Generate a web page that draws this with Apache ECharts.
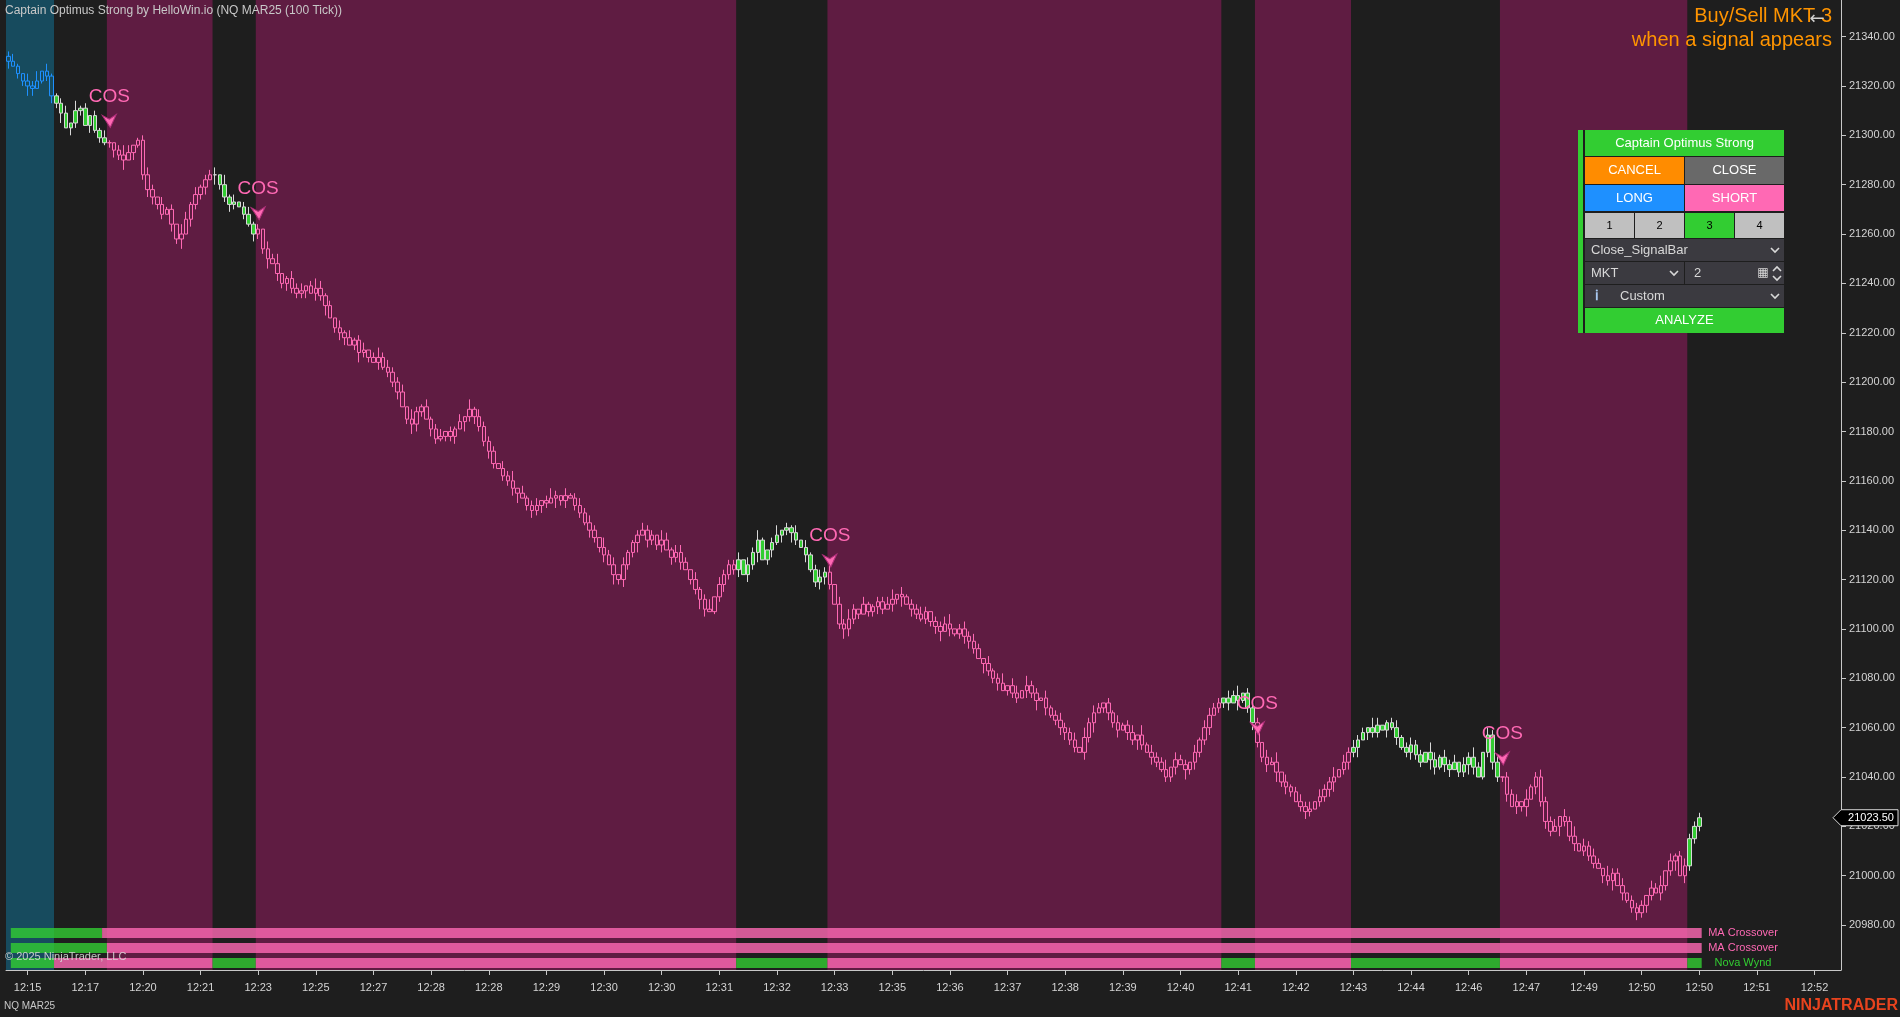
<!DOCTYPE html>
<html><head><meta charset="utf-8">
<script src="https://cdn.jsdelivr.net/npm/echarts@6/dist/echarts.min.js"></script>
<style>html,body{margin:0;padding:0;background:#1e1e1e;overflow:hidden}#c{width:1900px;height:1017px}</style>
</head><body><div id="c"></div><script>
// ---------- DATA ----------
const tickLabels = ['12:15','12:17','12:20','12:21','12:23','12:25','12:27','12:28','12:28','12:29','12:30','12:30','12:31','12:32','12:33','12:35','12:36','12:37','12:38','12:39','12:40','12:41','12:42','12:43','12:44','12:46','12:47','12:49','12:50','12:50','12:51','12:52'];
const yTicks = [20980,21000,21020,21040,21060,21080,21100,21120,21140,21160,21180,21200,21220,21240,21260,21280,21300,21320,21340];
const firstOpen = 21332;
const closes = [
21330,21328,21325,21322,21320,21319,21322,21326,21324,21316,
21313,21309,21303,21305,21310,21311,21304,21308,21302,21299,21297,
21297,21294,21292,21290,21293,21296,21298,21284,21278,21275,21272,21268,21270,21264,21258,21260,21266,21272,21276,21279,21282,21284,
21284,21280,21275,21272,21273,21271,21268,21264,21260,
21262,21254,21250,21248,21244,21240,21242,21238,21236,21237,
21239,21236,21238,21235,21231,21226,21222,21220,21218,21215,
21217,21212,21213,21210,21208,21210,21206,21204,21200,21196,
21190,21185,21183,21188,21190,21185,21181,21177,21178,21180,
21178,21181,21184,21186,21189,21186,21182,21176,21172,21167,
21165,21162,21160,21157,21155,21153,21150,21148,21150,21152,
21151,21153,21154,21152,21154,21153,21150,21147,21143,21140,
21137,21133,21130,21126,21122,21120,21126,21131,21135,21138,
21140,21136,21138,21134,21136,21132,21129,21131,21127,21124,
21120,21116,21112,21108,21107,21113,21118,21122,21126,21124,
21128,21122,21126,21131,21136,21128,21132,21135,21138,21140,21141,21139,21136,21133,21130,21124,21119,21121,21123,
21118,21110,21102,21100,21104,21108,21106,21110,21107,21109,
21111,21108,21110,21112,21114,21113,21110,21108,21106,21104,
21107,21103,21101,21099,21102,21100,21098,21100,21097,21095,
21092,21088,21086,21083,21080,21078,21075,21077,21074,21072,
21075,21077,21074,21071,21072,21068,21065,21063,21060,21058,
21055,21052,21050,21056,21062,21066,21068,21070,21066,21062,
21059,21061,21058,21055,21057,21053,21050,21048,21046,21043,
21040,21044,21047,21045,21043,21046,21050,21055,21060,21065,
21068,21070,
21072,21070,21073,21071,21074,21068,21062,
21054,21048,21045,21046,21042,21038,21036,21034,21030,21028,21026,21027,21030,21032,21035,21038,21040,21043,21046,21050,
21052,21055,21058,21060,21058,21061,21059,21062,21060,21056,
21052,21050,21053,21049,21046,21050,21047,21044,21048,21045,
21043,21046,21042,21045,21048,21044,21040,21050,21057,21046,21040,
21040,21033,21028,21030,21028,21031,21036,21040,21030,21022,
21018,21020,21024,21022,21016,21013,21010,21012,21008,21005,
21003,21000,20998,21001,20996,20993,20990,20987,20985,20988,
20992,20995,20993,20996,21002,21006,21008,21000,21004,
21015,21020,21023.5
];
const upWick = '2310324031'+'1230412021'+'3102430123'+'2031204313'+'1223041302'+'3120324013'+'2302431203'+'1312302423'+'2230421312'+'3021304132'+
'2203240312'+'3024203123'+'2320423031'+'1232204313'+'3203124032'+'2230324102'+'4021303123'+'2303242031'+'1223403122'+'3202234023'+
'2320312403'+'3042203123'+'2230423202'+'1312304132'+'2403220313'+'3220324023'+'2032403123'+'2303224032'+'3220430123'+'1232204313'+
'2303242032'+'3022304123'+'2230324032'+'3204223022'+'2032403123'+'2222222222';
const downWick = '3022430123'+'2403220312'+'1232403123'+'3220324032'+'2304223202'+'1322403232'+'2230324023'+'3024220312'+'2302432032'+'1223042322'+
'3202234023'+'2320423022'+'1322304232'+'2403223032'+'3022430123'+'2230324023'+'1324203123'+'3202432202'+'2320324032'+'1223403123'+
'3204223022'+'2032403123'+'3220324023'+'2303242032'+'1223042322'+'3022304123'+'2230423202'+'3202234023'+'2403220313'+'1232204313'+
'3022430123'+'2230324032'+'3204223022'+'2032403123'+'2320322403'+'2222222222';
// regime bands: [firstBar, lastBar, regime]
const bands = [[0,9,'long'],[10,20,'flat'],[21,42,'short'],[43,51,'flat'],[52,151,'short'],[152,170,'flat'],[171,252,'short'],[253,259,'flat'],[260,279,'short'],[280,310,'flat'],[311,349,'short'],[350,352,'flat']];
// indicator rows: [firstBar, lastBar, state]
const maCross1 = [[1,19,'up'],[20,352,'down']];
const maCross2 = [[1,20,'up'],[21,352,'down']];
const novaWynd = [[1,9,'up'],[10,42,'down'],[43,51,'up'],[52,151,'down'],[152,170,'up'],[171,252,'down'],[253,259,'up'],[260,279,'down'],[280,310,'up'],[311,349,'down'],[350,352,'up']];
const indicatorNames = ['MA Crossover','MA Crossover','Nova Wynd'];
const cosBars = [21,52,171,260,311];
const cosPrices = [21305.8,21268.4,21127.7,21059.8,21047.5];
const lastPrice = 21023.5;

// ---------- LAYOUT / STYLE ----------
const categoryCount = 382, tickStart = 4, barsPerTick = 12;
const FF = 'Liberation Sans, Arial, sans-serif';
const bandColor = {long:'#174b5e', short:'#5f1c42'};
const candleStyle = {
  long: {color:'rgba(0,0,0,0)', color0:'#1e90ff', borderColor:'#1e90ff', borderColor0:'#1e90ff'},
  flat: {color:'#32cd32', color0:'#ff1a1a', borderColor:'#d8d8d8', borderColor0:'#d8d8d8'},
  short:{color:'rgba(0,0,0,0)', color0:'#ff69b4', borderColor:'#ff69b4', borderColor0:'#ff69b4'}
};
const stripColor = {up:'rgba(50,205,50,0.8)', down:'rgba(255,105,180,0.8)'};
const labelColor = ['#ff69b4','#ff69b4','#32cd32'];

const cats = Array.from({length:categoryCount}, (_,i)=>String(i));
function regimeOf(i){ for (const b of bands) if (i>=b[0] && i<=b[1]) return b[2]; return 'flat'; }
const candles = closes.map((c,i)=>{
  const o = i ? closes[i-1] : firstOpen;
  const u = +(upWick[i]||0), d = +(downWick[i]||0);
  return {value:[o, c, Math.min(o,c)-d, Math.max(o,c)+u], itemStyle: candleStyle[regimeOf(i)]};
});
const bandData = bands.filter(b=>b[2]!=='flat');
const stripRows = [maCross1, maCross2, novaWynd];
const stripData = [];
stripRows.forEach((row,r)=>row.forEach(s=>stripData.push({s:s[0], e:s[1], row:r, state:s[2]})));
const isTick = (idx)=> idx>=tickStart && (idx-tickStart)%barsPerTick===0 && (idx-tickStart)/barsPerTick < tickLabels.length;

const chart = echarts.init(document.getElementById('c'));
chart.setOption({
  animation:false,
  backgroundColor:'#1e1e1e',
  grid:{left:6, right:59, top:0, bottom:47, containLabel:false},
  xAxis:{type:'category', data:cats, boundaryGap:true,
    axisLine:{show:true, lineStyle:{color:'#c8c8c8', width:1}},
    axisTick:{show:true, alignWithLabel:true, interval:isTick, length:5, lineStyle:{color:'#c8c8c8'}},
    axisLabel:{interval:isTick, formatter:(v,i)=>tickLabels[(i-tickStart)/barsPerTick], color:'#d4d4d4', fontSize:11, margin:12, fontFamily:FF},
    splitLine:{show:false}},
  yAxis:{type:'value', position:'right', min:20961.8, max:21354.83, scale:true,
    axisLine:{show:true, lineStyle:{color:'#c8c8c8', width:1}},
    axisTick:{show:true, length:5, customValues:yTicks, lineStyle:{color:'#c8c8c8'}},
    axisLabel:{show:true, customValues:yTicks, formatter:v=>Number(v).toFixed(2), color:'#d4d4d4', fontSize:11, margin:8, fontFamily:FF},
    splitLine:{show:false}},
  series:[
    {type:'custom', silent:true, z:1, clip:false,
      data: bandData.map(b=>[b[0], b[1]]), encode:{x:[0,1]},
      renderItem:(params, api)=>{
        const b = bandData[params.dataIndex];
        const w = api.size([1,0])[0];
        const x0 = api.coord([b[0], 21000])[0] - w/2;
        const x1 = api.coord([b[1], 21000])[0] + w/2;
        const cs = params.coordSys;
        return {type:'rect', shape:{x:x0, y:cs.y, width:x1-x0, height:cs.height}, style:{fill:bandColor[b[2]]}};
      }},
    {type:'custom', silent:true, z:2, clip:false,
      data: stripData.map(s=>[s.s, s.e]), encode:{x:[0,1]},
      renderItem:(params, api)=>{
        const s = stripData[params.dataIndex];
        const w = api.size([1,0])[0];
        const x0 = api.coord([s.s, 21000])[0] - w/2;
        const x1 = api.coord([s.e, 21000])[0] + w/2;
        const cs = params.coordSys;
        const y = cs.y + cs.height - 42 + s.row*15;
        return {type:'rect', shape:{x:x0, y:y, width:x1-x0, height:10}, style:{fill:stripColor[s.state]}};
      }},
    {type:'candlestick', z:3, data:candles, barWidth:4, itemStyle:{borderWidth:1}},
    {type:'scatter', z:5, silent:true,
      data: cosBars.map((b,k)=>[b, cosPrices[k]]),
      symbol:'path://M0,1 L7,5 L14,0 L8,14 Z', symbolSize:[14,13],
      itemStyle:{color:'#ff69b4', borderColor:'#b0307a', borderWidth:1, opacity:1},
      label:{show:true, formatter:'COS', position:'top', distance:8, color:'#ff69b4', fontSize:19, fontFamily:FF}}
  ]
});

// ---------- overlay texts / trade panel ----------
function box(x,y,w,h,fill){return {type:'rect', shape:{x:x,y:y,width:w,height:h}, style:{fill:fill}, silent:true, z:100};}
function txt(x,y,s,o,z){return {type:'text', x:x, y:y, silent:true, z:z||101, style:Object.assign({text:s, fill:'#ffffff', font:'13px '+FF, align:'center', verticalAlign:'middle'}, o||{})};}
function chev(x,y,up){return {type:'polyline', silent:true, z:101, shape:{points: up?[[x-4,y+2],[x,y-2],[x+4,y+2]]:[[x-4,y-2],[x,y+2],[x+4,y-2]]}, style:{stroke:'#d8d8d8', lineWidth:1.6, fill:null}};}

const g = [];
g.push(txt(5,11,'Captain Optimus Strong by HelloWin.io (NQ MAR25 (100 Tick))',{fill:'#c8c8c8', font:'12px '+FF, align:'left'}));
g.push(txt(1832,16,'Buy/Sell MKT 3',{fill:'#ff9400', font:'20px '+FF, align:'right'}));
g.push(txt(1832,40,'when a signal appears',{fill:'#ff9400', font:'20px '+FF, align:'right'}));
g.push(txt(1817,19,'←',{fill:'#d0d0d0', font:'18px DejaVu Sans, sans-serif'}));
g.push(txt(5,957,'© 2025 NinjaTrader, LLC',{fill:'rgba(215,215,215,0.9)', font:'11px '+FF, align:'left'}));
g.push(txt(4,1006,'NQ MAR25',{fill:'#c8c8c8', font:'10px '+FF, align:'left'}));
g.push(txt(1898,1006,'NINJATRADER',{fill:'#e8431e', font:'bold 16px '+FF, align:'right'}));
indicatorNames.forEach((n,r)=>g.push(txt(1743,933+15*r,n,{fill:labelColor[r], font:'11px '+FF})));

// trade panel
g.push(box(1578,130,206,203,'#1e1e1e'));
g.push(box(1578,130,5,203,'#32cd32'));
g.push(box(1585,130,199,26,'#32cd32')); g.push(txt(1684.5,143,'Captain Optimus Strong'));
g.push(box(1585,157,99,27,'#ff8c00')); g.push(txt(1634.5,170.5,'CANCEL'));
g.push(box(1685,157,99,27,'#696969')); g.push(txt(1734.5,170.5,'CLOSE'));
g.push(box(1585,185,99,26,'#1e90ff')); g.push(txt(1634.5,198,'LONG'));
g.push(box(1685,185,99,26,'#ff69b4')); g.push(txt(1734.5,198,'SHORT'));
['1','2','3','4'].forEach((n,k)=>{ g.push(box(1585+50*k,213,49,25,n==='3'?'#32cd32':'#c0c0c0')); g.push(txt(1609.5+50*k,225.5,n,{fill:'#000', font:'11px '+FF})); });
g.push(box(1585,239,199,22,'#3b3a40')); g.push(txt(1591,250,'Close_SignalBar',{fill:'#d8d8d8', align:'left'})); g.push(chev(1775,250,false));
g.push(box(1585,262,99,22,'#3b3a40')); g.push(txt(1591,273,'MKT',{fill:'#d8d8d8', align:'left'})); g.push(chev(1674,273,false));
g.push(box(1685,262,99,22,'#3b3a40')); g.push(txt(1694,273,'2',{fill:'#d8d8d8', align:'left'}));
g.push(txt(1763,273,'▦',{fill:'#d8d8d8', font:'12px DejaVu Sans, sans-serif'})); g.push(chev(1777,269,true)); g.push(chev(1777,278,false));
g.push(box(1585,285,199,22,'#3b3a40')); g.push(txt(1597,296,'ℹ',{fill:'#a9c8f0', font:'bold 14px DejaVu Serif, serif'}));
g.push(txt(1620,296,'Custom',{fill:'#d8d8d8', align:'left'})); g.push(chev(1775,296,false));
g.push(box(1585,308,199,25,'#32cd32')); g.push(txt(1684.5,320.5,'ANALYZE'));

// last price tag, positioned from the data
const pt = chart.convertToPixel({seriesIndex:2}, [closes.length-1, lastPrice]);
const ly = pt[1], ax = 1841;
g.push({type:'polygon', silent:true, z:102, shape:{points:[[ax-8,ly],[ax,ly-8],[1898,ly-8],[1898,ly+8],[ax,ly+8]]}, style:{fill:'#000', stroke:'#d8d8d8', lineWidth:1}});
g.push(txt(1871,ly,lastPrice.toFixed(2),{fill:'#ffffff', font:'11px '+FF}, 110));
chart.setOption({graphic:g});
</script></body></html>
